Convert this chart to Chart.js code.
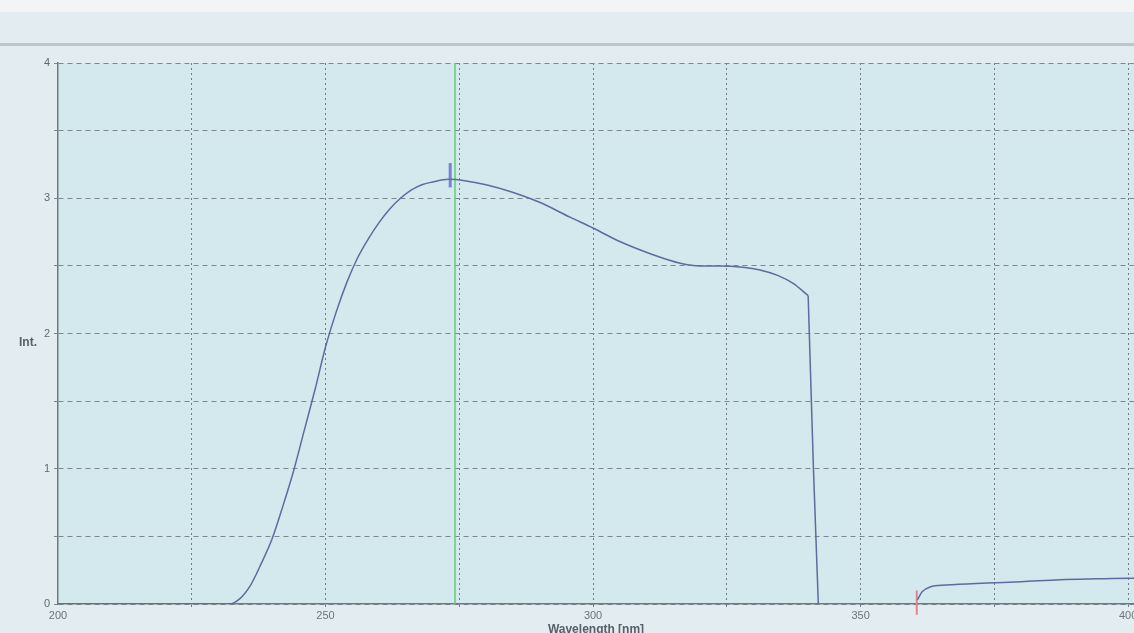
<!DOCTYPE html>
<html>
<head>
<meta charset="utf-8">
<script src="https://cdn.jsdelivr.net/npm/chart.js@4/dist/chart.umd.min.js"></script>
<style>
  html, body { margin: 0; padding: 0; background: #e3edf1; }
  #wrap { width: 1134px; height: 633px; }
</style>
</head>
<body>
<div id="wrap"><canvas id="specChart"></canvas></div>
<script>
// spectrum, first band (wavelength nm / intensity), smooth part
const band1Wl = [200, 232, 234, 236, 238, 240, 242, 244, 246, 248, 250, 252, 254, 256, 258, 260, 262, 264, 266, 268, 270, 273, 276, 280, 284.5, 290, 295.7, 300, 305, 310.7, 316.3, 320, 323.7, 328, 331.2, 334.5, 337.4, 340.2];
const band1Int = [0, 0, 0.04, 0.14, 0.3, 0.48, 0.72, 0.98, 1.28, 1.58, 1.9, 2.16, 2.38, 2.56, 2.7, 2.82, 2.92, 3.0, 3.06, 3.1, 3.12, 3.14, 3.13, 3.1, 3.05, 2.97, 2.86, 2.78, 2.68, 2.59, 2.52, 2.5, 2.5, 2.49, 2.47, 2.43, 2.37, 2.28];

// steep cut-off at the end of the first band
const dropWl = [340.2, 341.2, 342.1];
const dropInt = [2.28, 0.99, 0];

// second band after the red marker
const band2Wl = [360.6, 361.5, 363, 366, 373.6, 380, 387.3, 394, 400.4, 402];
const band2Int = [0.03, 0.09, 0.126, 0.14, 0.155, 0.165, 0.18, 0.186, 0.19, 0.19];

// cursors
const greenCursorWl = 274.2;
const peakMarkWl = 273.3;
const peakMarkInt = [3.08, 3.26];
const redMarkWl = 360.5;
const redMarkInt = [-0.08, 0.1];

// axis ranges / ticks
const xMin = 200, xMax = 401.1, xStep = 25, xLabelEvery = 50;
const yMin = 0, yMax = 4, yStep = 0.5;

const toPts = (xs, ys) => xs.map((x, i) => ({ x, y: ys[i] }));
const FONT = '"Liberation Sans", Arial, sans-serif';

// background + "Int." label
const bgPlugin = {
  id: 'bg',
  beforeDraw(chart) {
    const { ctx, chartArea: a, width } = chart;
    ctx.save();
    ctx.fillStyle = '#f2f5f6';
    ctx.fillRect(0, 0, width, 12);
    ctx.fillStyle = '#bcc7cc';
    ctx.fillRect(0, 43, width, 3);
    ctx.fillStyle = '#d4e9ee';
    ctx.fillRect(a.left, a.top, a.right - a.left, a.bottom - a.top);
    ctx.restore();
  },
  afterDraw(chart) {
    const { ctx } = chart;
    const y = chart.scales.y.getPixelForValue(1.93);
    ctx.save();
    ctx.font = 'bold 12px ' + FONT;
    ctx.fillStyle = '#55606a';
    ctx.textAlign = 'left';
    ctx.textBaseline = 'middle';
    ctx.fillText('Int.', 19, y);
    ctx.restore();
  }
};

const lineStyle = { showLine: true, borderColor: '#5d6c9c', borderWidth: 1.5, pointRadius: 0 };

const ctx = document.getElementById('specChart').getContext('2d');
const specChart = new Chart(ctx, {
  type: 'scatter',
  data: {
    datasets: [
      Object.assign({ label: 'band1', data: toPts(band1Wl, band1Int), cubicInterpolationMode: 'monotone' }, lineStyle),
      Object.assign({ label: 'drop', data: toPts(dropWl, dropInt), tension: 0 }, lineStyle),
      Object.assign({ label: 'band2', data: toPts(band2Wl, band2Int), cubicInterpolationMode: 'monotone' }, lineStyle),
      {
        label: 'cursor',
        data: [{ x: greenCursorWl, y: yMin }, { x: greenCursorWl, y: yMax }],
        showLine: true,
        borderColor: '#62d06c',
        borderWidth: 1.5,
        pointRadius: 0
      },
      {
        label: 'peak',
        data: peakMarkInt.map(v => ({ x: peakMarkWl, y: v })),
        showLine: true,
        borderColor: '#7880d8',
        borderWidth: 3,
        pointRadius: 0
      },
      {
        label: 'marker',
        data: redMarkInt.map(v => ({ x: redMarkWl, y: v })),
        showLine: true,
        borderColor: '#e8828a',
        borderWidth: 2,
        pointRadius: 0,
        clip: false
      }
    ]
  },
  options: {
    responsive: true,
    maintainAspectRatio: false,
    animation: false,
    layout: { padding: { top: 63, right: 0, left: 0, bottom: 0 } },
    plugins: { legend: { display: false }, tooltip: { enabled: false } },
    scales: {
      x: {
        type: 'linear',
        min: xMin,
        max: xMax,
        afterFit: s => { s.height = 29; s.paddingRight = 0; s.paddingLeft = 0; },
        afterBuildTicks: s => {
          const t = [];
          for (let v = xMin; v <= 400; v += xStep) t.push({ value: v });
          s.ticks = t;
        },
        ticks: {
          padding: 2,
          maxRotation: 0,
          autoSkip: false,
          color: '#6a757c',
          font: { family: FONT, size: 11 },
          callback: v => (v % xLabelEvery === 0 ? String(v) : '')
        },
        grid: {
          color: ctx => (ctx.tick && ctx.tick.value === xMin ? 'rgba(0,0,0,0)' : '#6f7c83'),
          lineWidth: 1,
          tickLength: 3
        },
        border: { display: true, color: '#6e7980', width: 1.5, dash: [2, 3] },
        title: {
          display: true,
          text: 'Wavelength [nm]',
          color: '#55606a',
          padding: { top: 0, bottom: -4 },
          font: { family: FONT, size: 12, weight: 'bold' }
        }
      },
      y: {
        min: yMin,
        max: yMax,
        afterFit: s => { s.width = 58; },
        ticks: {
          stepSize: yStep,
          padding: 4,
          color: '#5f6a72',
          font: { family: FONT, size: 11 },
          callback: v => (Number.isInteger(v) ? String(v) : '')
        },
        grid: { color: '#7b888e', lineWidth: 1, tickLength: 4 },
        border: { display: true, color: '#6e7980', width: 1.5, dash: [5, 4] }
      }
    }
  },
  plugins: [bgPlugin]
});
</script>
</body>
</html>
